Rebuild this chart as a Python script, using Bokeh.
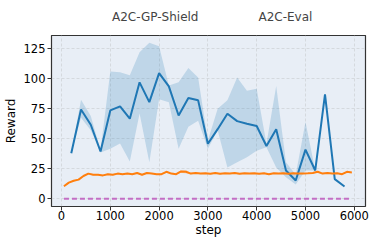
from bokeh.plotting import figure
from bokeh.models import Legend, LegendItem, Range1d, FixedTicker
from bokeh.layouts import column
from bokeh.embed import file_html
from bokeh.resources import INLINE

# A2C-GP-Shield (mean with min/max band)
shield_x = [200, 400, 600, 800, 1000, 1200, 1400, 1600, 1800, 2000, 2200, 2400, 2600, 2800,
            3000, 3200, 3400, 3600, 3800, 4000, 4200, 4400, 4600, 4800, 5000, 5200, 5400, 5600, 5800]
shield_y = [38, 74.4, 61.7, 39.4, 73.6, 77, 66.7, 97, 80.5, 104.7, 93.6, 69.4, 83.9, 82,
            45.8, 58, 70.8, 64.7, 62.5, 60.6, 44, 58, 23.6, 15.3, 41, 23.6, 87, 16.4, 10.3]
shield_lo = [38, 67.5, 57, 38.5, 41.7, 46, 31, 71, 30.5, 83, 80.5, 41.7, 60, 65,
             41.7, 57, 26, 30.5, 34.7, 40, 43, 26, 18, 12, 23.6, 23.6, 87, 16.4, 10.3]
shield_hi = [38, 82.5, 69, 40.5, 106, 105.5, 103, 122, 130, 127, 94.4, 97, 109, 101,
             48.6, 75, 82, 101, 90, 91.7, 45.8, 94, 30.5, 20, 64, 23.6, 87, 16.4, 10.3]

# A2C-Eval
eval_x = [50, 150, 250, 350, 450, 550, 650, 750, 850, 950,
          1050, 1150, 1250, 1350, 1450, 1550, 1650, 1750, 1850, 1950,
          2050, 2150, 2250, 2350, 2450, 2550, 2650, 2750, 2850, 2950,
          3050, 3150, 3250, 3350, 3450, 3550, 3650, 3750, 3850, 3950,
          4050, 4150, 4250, 4350, 4450, 4550, 4650, 4750, 4850, 4950,
          5050, 5150, 5250, 5350, 5450, 5550, 5650, 5750, 5850, 5950]
eval_y = [10.5, 13.5, 15, 16, 19, 21, 20, 20, 19.5, 20.5,
          20, 21, 20.5, 21, 20.5, 21.5, 20, 21.5, 21, 20.5,
          20.5, 22.5, 21, 20.5, 22.8, 22.5, 21, 21.5, 21, 21.3,
          20.8, 21.5, 20.8, 21.3, 21, 21.5, 20.8, 21.3, 21, 21.2,
          20.8, 21.3, 20.5, 21.3, 21, 21.2, 20.8, 21.3, 21, 21,
          21.2, 21.5, 22.5, 21, 21.5, 21, 21.3, 20.5, 22.5, 22]
eval_spread = [0.5, 0.5, 0.5, 0.5, 0.5, 0.6, 0.5, 0.5, 0.5, 0.5,
               0.5, 0.5, 0.5, 0.5, 0.5, 0.5, 0.5, 0.5, 0.5, 0.5,
               0.5, 0.6, 0.5, 0.5, 1.0, 1.5, 0.6, 0.5, 0.5, 0.5,
               0.5, 0.5, 0.5, 0.5, 0.5, 0.5, 0.5, 0.5, 0.5, 0.5,
               0.5, 0.5, 0.5, 0.5, 0.5, 0.5, 0.5, 0.5, 0.5, 0.5,
               0.5, 0.5, 0.6, 0.5, 0.5, 0.5, 0.5, 0.5, 0.6, 0.5]

# backup
backup_x = [50, 5950]
backup_y = [0, 0]

x_ticks = [0, 1000, 2000, 3000, 4000, 5000, 6000]
y_ticks = [0, 25, 50, 75, 100, 125]

series_names = ["A2C-GP-Shield", "A2C-Eval", "backup"]
series_colors = ["#1f77b4", "#ff7f0e", "#c060c0"]

FONT = "DejaVu Sans"

# ---- main chart ----
p = figure(frame_width=314, frame_height=171, output_backend="svg", toolbar_location=None,
           x_range=Range1d(-205, 6230), y_range=Range1d(-6.4, 136),
           min_border_left=41, min_border_right=18, min_border_top=0, min_border_bottom=29)

p.background_fill_color = "#e8eef6"
p.border_fill_color = "white"
p.outline_line_color = "#333333"
p.outline_line_width = 1.2

for g in (p.xgrid[0], p.ygrid[0]):
    g.grid_line_color = "#cfd3d8"
    g.grid_line_dash = "3 2"
    g.grid_line_width = 0.8

p.xaxis.ticker = FixedTicker(ticks=x_ticks)
p.yaxis.ticker = FixedTicker(ticks=y_ticks)
for ax in (p.xaxis[0], p.yaxis[0]):
    ax.axis_line_color = None
    ax.major_tick_line_color = "#333333"
    ax.major_tick_out = 4
    ax.major_tick_in = 0
    ax.minor_tick_line_color = None
    ax.major_label_text_font = FONT
    ax.major_label_text_font_size = "11.5px"
    ax.major_label_text_color = "black"
    ax.axis_label_text_font = FONT
    ax.axis_label_text_font_size = "12px"
    ax.axis_label_text_font_style = "normal"
    ax.axis_label_text_color = "black"
p.xaxis.major_label_standoff = 0
p.xaxis.axis_label_standoff = 0
p.yaxis.major_label_standoff = 2
p.yaxis.axis_label_standoff = 3
p.xaxis.axis_label = "step"
p.yaxis.axis_label = "Reward"

p.varea(x=shield_x, y1=shield_lo, y2=shield_hi, fill_color=series_colors[0], fill_alpha=0.2)
eval_lo = [v - s for v, s in zip(eval_y, eval_spread)]
eval_hi = [v + s for v, s in zip(eval_y, eval_spread)]
p.varea(x=eval_x, y1=eval_lo, y2=eval_hi, fill_color=series_colors[1], fill_alpha=0.2)

p.line(shield_x, shield_y, line_color=series_colors[0], line_width=2)
p.line(eval_x, eval_y, line_color=series_colors[1], line_width=2)
p.line(backup_x, backup_y, line_color=series_colors[2], line_width=2, line_dash="5 3", line_alpha=0.9)

# ---- legend strip above the chart ----
lg = figure(width=373, height=35, output_backend="svg", toolbar_location=None,
            x_range=Range1d(0, 1), y_range=Range1d(0, 1),
            min_border_left=0, min_border_right=0, min_border_top=0, min_border_bottom=0)
lg.axis.visible = False
lg.grid.visible = False
lg.outline_line_color = None
lg.background_fill_color = "white"
lg.border_fill_color = "white"

l1 = lg.line([], [], line_color=series_colors[0], line_width=2)
l2 = lg.line([], [], line_color=series_colors[1], line_width=2)
l3 = lg.line([], [], line_color=series_colors[2], line_width=2, line_dash="5 3", line_alpha=0.9)

legend = Legend(items=[LegendItem(label=series_names[0], renderers=[l1]),
                       LegendItem(label=series_names[1], renderers=[l2]),
                       LegendItem(label=series_names[2], renderers=[l3])],
                orientation="horizontal", location=(26, 11))
legend.border_line_color = None
legend.background_fill_alpha = 0
legend.label_text_font = FONT
legend.label_text_font_size = "12px"
legend.glyph_width = 26
legend.glyph_height = 14
legend.label_height = 14
legend.label_standoff = 9
legend.spacing = 25
legend.padding = 0
legend.margin = 0
lg.add_layout(legend, "center")

layout = column(lg, p, spacing=0)

open("out.html", "w").write(file_html(layout, INLINE))
